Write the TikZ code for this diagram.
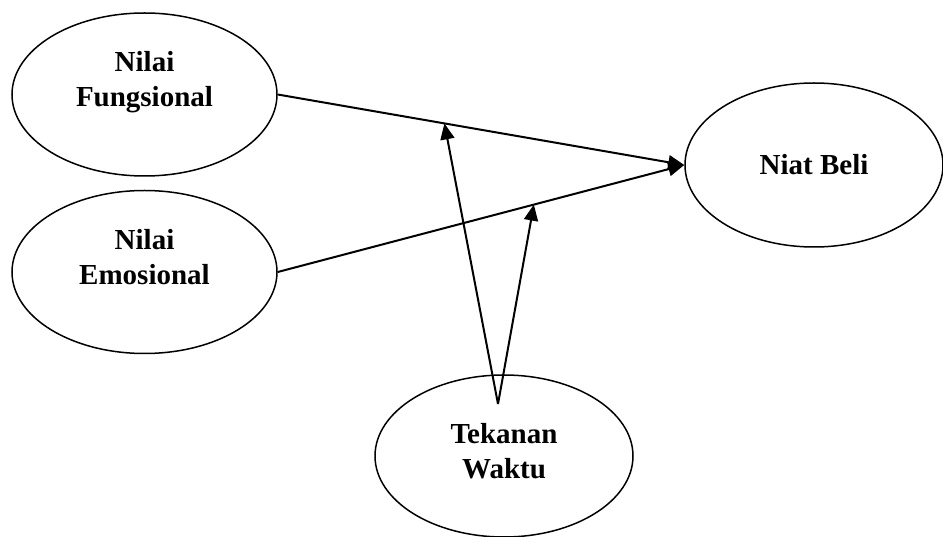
\documentclass[tikz,border=0pt]{standalone}
\usepackage{fontspec}
\setmainfont{Liberation Serif}
\usetikzlibrary{arrows.meta,shapes.geometric}
\begin{document}
\begin{tikzpicture}[x=1pt,y=-1pt,
  var/.style={draw,ellipse,line width=1.5pt,minimum width=265pt,minimum height=163pt,inner sep=0pt},
  lbl/.style={align=center,inner sep=0pt,font=\fontsize{29}{35}\selectfont\bfseries},
  link/.style={line width=2pt,-{Triangle[length=16pt,width=14pt]}}]
\useasboundingbox (0,0) rectangle (943,537);
\node[var] (f) at (144.5,94.5) {};
\node[var] (e) at (144.5,272) {};
\node[var,minimum width=258pt,minimum height=164pt] (nb) at (814,165) {};
\node[var,minimum width=258pt,minimum height=162pt] (tw) at (504,456) {};
\node[lbl] (ft) at ([yshift=12pt]f.center) {Nilai\\Fungsional};
\node[lbl] (et) at ([yshift=15pt]e.center) {Nilai\\Emosional};
\node[lbl] (nbt) at (nb.center) {Niat Beli};
\node[lbl] (twt) at ([yshift=5pt]tw.center) {Tekanan\\Waktu};
\draw[link] (f.east) -- (nb.west);
\draw[link] (e.east) -- (nb.west);
\path (f.east) -- (nb.west) coordinate[pos=0.41] (m1);
\path (e.east) -- (nb.west) coordinate[pos=0.63] (m2);
\coordinate (s) at (498,404);
\draw[link] (s) -- (m1);
\draw[link] (s) -- (m2);
\end{tikzpicture}
\end{document}
